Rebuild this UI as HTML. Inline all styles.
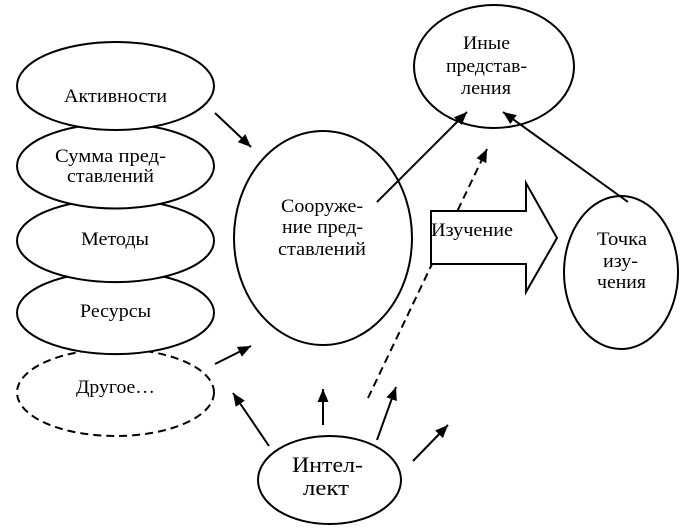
<!DOCTYPE html>
<html>
<head>
<meta charset="utf-8">
<style>
html,body{margin:0;padding:0;background:#fff;}
svg{display:block;}
text{font-family:"Liberation Serif","DejaVu Serif",serif;font-size:19px;fill:#000;}
</style>
</head>
<body>
<svg width="693" height="532" viewBox="0 0 693 532" xmlns="http://www.w3.org/2000/svg">
<defs>
<marker id="ah" markerUnits="userSpaceOnUse" markerWidth="14" markerHeight="12" refX="13" refY="5.5" orient="auto">
<path d="M0,0 L13,5.5 L0,11 z" fill="#000"/>
</marker>
</defs>
<rect width="693" height="532" fill="#fff"/>
<g fill="#fff" stroke="#000" stroke-width="2">
<ellipse cx="115.5" cy="392.5" rx="98.5" ry="43.5" stroke-dasharray="8,5"/>
<ellipse cx="115.5" cy="312.7" rx="98.5" ry="41.4"/>
<ellipse cx="115.5" cy="240.7" rx="98.5" ry="41.4"/>
<ellipse cx="115.5" cy="166" rx="98.5" ry="42.5"/>
<ellipse cx="115.5" cy="86" rx="98.5" ry="44"/>
<ellipse cx="323" cy="238" rx="89" ry="107"/>
<ellipse cx="494" cy="66.5" rx="80" ry="61.5"/>
<ellipse cx="621" cy="272.5" rx="57" ry="76.5"/>
<ellipse cx="329.5" cy="480" rx="71.5" ry="44"/>
</g>
<g stroke="#000" stroke-width="2" fill="none">
<line x1="215" y1="113" x2="251" y2="147" marker-end="url(#ah)"/>
<line x1="215" y1="364" x2="251" y2="346" marker-end="url(#ah)"/>
<line x1="269" y1="446" x2="233" y2="393" marker-end="url(#ah)"/>
<line x1="323" y1="425" x2="323" y2="389" marker-end="url(#ah)"/>
<line x1="377" y1="440" x2="396" y2="387" marker-end="url(#ah)"/>
<line x1="413" y1="461" x2="448" y2="425" marker-end="url(#ah)"/>
<line x1="368" y1="398" x2="487" y2="149" stroke-dasharray="8,5" marker-end="url(#ah)"/>
<line x1="377" y1="202" x2="467" y2="112" marker-end="url(#ah)"/>
<line x1="628" y1="202" x2="503" y2="112" marker-end="url(#ah)"/>
</g>
<polygon points="431,211 526,211 526,183 557,238 526,292 526,264 431,264" fill="#fff" stroke="#000" stroke-width="2"/>

<g text-anchor="middle">
<text x="115.5" y="102" textLength="103" lengthAdjust="spacingAndGlyphs">Активности</text>
<text x="110.5" y="162" textLength="111" lengthAdjust="spacingAndGlyphs">Сумма пред-</text>
<text x="110.5" y="182" textLength="87" lengthAdjust="spacingAndGlyphs">ставлений</text>
<text x="115" y="245" textLength="68" lengthAdjust="spacingAndGlyphs">Методы</text>
<text x="115.5" y="317" textLength="71" lengthAdjust="spacingAndGlyphs">Ресурсы</text>
<text x="115.5" y="393" textLength="79" lengthAdjust="spacingAndGlyphs">Другое…</text>
<text x="322" y="212" textLength="82" lengthAdjust="spacingAndGlyphs">Сооруже-</text>
<text x="322.5" y="233" textLength="81" lengthAdjust="spacingAndGlyphs">ние пред-</text>
<text x="322" y="255" textLength="88" lengthAdjust="spacingAndGlyphs">ставлений</text>
<text x="486.5" y="49" textLength="47" lengthAdjust="spacingAndGlyphs">Иные</text>
<text x="486.5" y="72" textLength="81" lengthAdjust="spacingAndGlyphs">представ-</text>
<text x="486" y="94" textLength="50" lengthAdjust="spacingAndGlyphs">ления</text>
<text x="622" y="245" textLength="50" lengthAdjust="spacingAndGlyphs">Точка</text>
<text x="620.5" y="267" textLength="35" lengthAdjust="spacingAndGlyphs">изу-</text>
<text x="621.5" y="288" textLength="49" lengthAdjust="spacingAndGlyphs">чения</text>
<text x="327.5" y="472" style="font-size:22px" textLength="71" lengthAdjust="spacingAndGlyphs">Интел-</text>
<text x="326" y="495" style="font-size:22px" textLength="46" lengthAdjust="spacingAndGlyphs">лект</text>
</g>
<text x="431" y="236" textLength="82" lengthAdjust="spacingAndGlyphs">Изучение</text>
</svg>
</body>
</html>
